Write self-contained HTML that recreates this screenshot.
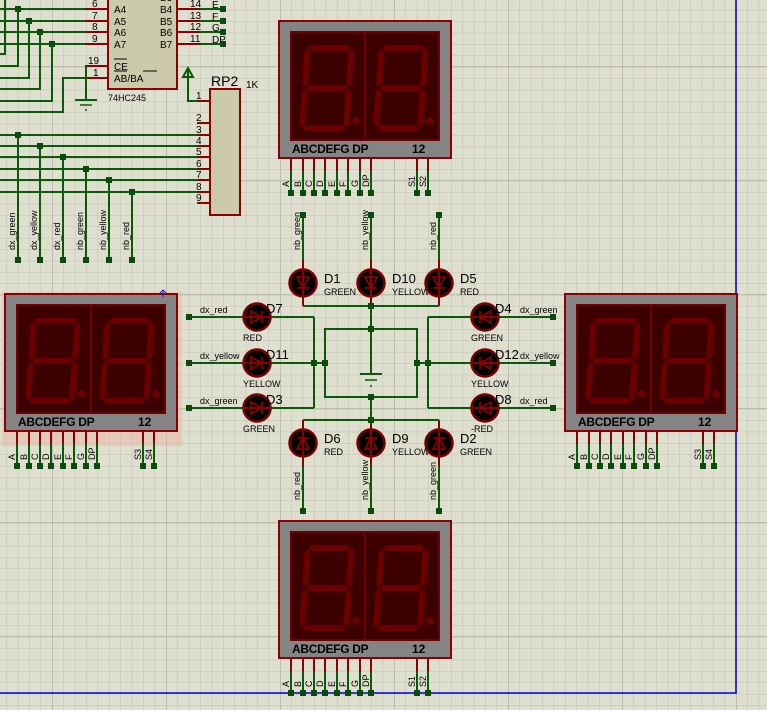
<!DOCTYPE html>
<html><head><meta charset="utf-8"><style>
html,body{margin:0;padding:0;background:#dfdfd0;}
svg{display:block;font-family:"Liberation Sans",Arial,sans-serif;}
</style></head><body>
<svg id="s" width="767" height="710" viewBox="0 0 767 710" xmlns="http://www.w3.org/2000/svg">
<defs>
<pattern id="g1" x="6.4" y="9.9" width="11.4" height="11.4" patternUnits="userSpaceOnUse"><path d="M0 0H11.4M0 0V11.4" stroke="#c0bfb0" stroke-width="1" fill="none"/></pattern>
<pattern id="g2" x="52" y="66" width="114" height="114" patternUnits="userSpaceOnUse"><path d="M0 0H114M0 0V114" stroke="#bdbcae" stroke-width="2" fill="none"/></pattern>
</defs>
<rect width="767" height="710" fill="#dfdfd0"/>
<rect width="767" height="710" fill="url(#g1)"/>
<rect width="767" height="710" fill="url(#g2)"/>
<path d="M736 0V693H0" stroke="#0000c8" stroke-width="1.5" fill="none"/>
<rect x="2" y="292" width="180" height="154" fill="#e8b8a8" opacity="0.55"/>
<g id="root"></g>
</svg>
<script>
var NS="http://www.w3.org/2000/svg",R=document.getElementById('root');
function el(t,a,txt){var e=document.createElementNS(NS,t);for(var k in a)e.setAttribute(k,a[k]);if(txt!==undefined)e.textContent=txt;R.appendChild(e);return e;}
var G="#0a5a0a",RD="#8b0000";
function L(x1,y1,x2,y2,c,w){el('line',{x1:x1,y1:y1,x2:x2,y2:y2,stroke:c||G,'stroke-width':w||2});}
function P(d,c){el('path',{d:d,stroke:c||G,'stroke-width':2,fill:'none'});}
function D(x,y){el('rect',{x:x-3,y:y-3,width:6,height:6,fill:'#0a4a0a'});}
function T(x,y,s,sz,opt){var a={x:x,y:y,'font-size':sz||10,fill:'#000'};if(opt)for(var k in opt)a[k]=opt[k];el('text',a,s);}
function TV(x,y,s,sz){T(x,y,s,sz||9,{transform:'rotate(-90 '+x+' '+y+')'});}
function hs(x,y,l,t){return (x)+','+(y+t/2)+' '+(x+t/2)+','+y+' '+(x+l-t/2)+','+y+' '+(x+l)+','+(y+t/2)+' '+(x+l-t/2)+','+(y+t)+' '+(x+t/2)+','+(y+t);}
function vs(x,y,l,t){return (x+t/2)+','+y+' '+(x+t)+','+(y+t/2)+' '+(x+t)+','+(y+l-t/2)+' '+(x+t/2)+','+(y+l)+' '+x+','+(y+l-t/2)+' '+x+','+(y+t/2);}
function digit(x,y){var c='#6a0000',t=6;
 var g=document.createElementNS(NS,'g');g.setAttribute('transform','translate('+(x+3)+','+y+') skewX(-4)');R.appendChild(g);
 var segs=[hs(4,0,42,t),vs(44,4,38,t),vs(44,44,38,t),hs(4,80,42,t),vs(0,44,38,t),vs(0,4,38,t),hs(4,40,42,t)];
 segs.forEach(function(p){var e=document.createElementNS(NS,'polygon');e.setAttribute('points',p);e.setAttribute('fill',c);g.appendChild(e);});
 el('circle',{cx:x+54,cy:y+76,r:3.8,fill:c});}
function disp(ox,oy,s1,s2){
 el('rect',{x:ox,y:oy,width:172,height:137,fill:'#848484',stroke:RD,'stroke-width':2});
 el('rect',{x:ox+12,y:oy+11,width:148,height:108,fill:'#3c0000',stroke:'#6e0000','stroke-width':2});
 L(ox+86,oy+11,ox+86,oy+119,'#6e0000',2);
 digit(ox+23,oy+24);digit(ox+97,oy+24);
 T(ox+13,oy+132,'ABCDEFG DP',12,{'font-weight':'bold','letter-spacing':'-0.3'});
 T(ox+133,oy+132,'12',12,{'font-weight':'bold'});
 var px=[12,24,35,46,58,69,81,92,138,149],lb=['A','B','C','D','E','F','G','DP',s1,s2];
 px.forEach(function(p,i){var X=ox+p;L(X,oy+138,X,oy+150,RD,2);L(X,oy+150,X,oy+172);D(X,oy+172);TV(X-2,oy+166,lb[i],9);});
}
disp(279,21,'S1','S2');disp(279,521,'S1','S2');disp(5,294,'S3','S4');disp(565,294,'S3','S4');
el('rect',{x:108,y:-10,width:69,height:99,fill:'#cbcbac',stroke:RD,'stroke-width':2});
T(108,101,'74HC245',9);
var lp=[[9,'6','A4'],[21,'7','A5'],[32,'8','A6'],[44,'9','A7']];
lp.forEach(function(a){L(85,a[0],108,a[0],RD,2);T(92,a[0]-2,a[1],10);T(114,a[0]+4,a[2],10);});
L(85,66,108,66,RD,2);T(88,64,'19',10);T(114,70,'CE',10);L(114,59,127,59,'#000',1);
L(85,78,108,78,RD,2);T(93,76,'1',10);T(114,82,'AB/BA',10);L(114,71,127,71,'#000',1);L(143,71,157,71,'#000',1);
var rp=[[-3,'15','B3',''],[9,'14','B4','E'],[21,'13','B5','F'],[32,'12','B6','G'],[44,'11','B7','DP']];
rp.forEach(function(a){L(177,a[0],200,a[0],RD,2);T(190,a[0]-2,a[1],10);T(160,a[0]+4,a[2],10);L(200,a[0],223,a[0]);D(223,a[0]);T(212,a[0]-1,a[3],10);});
[[9,18],[21,29],[32,40],[44,52]].forEach(function(a){L(0,a[0],85,a[0]);D(a[1],a[0]);});
P('M5 0V54H0');P('M18 9V66H0');P('M29 21V78H0');P('M40 32V89H0');P('M52 44V101H0');P('M0 112H63V78H85');
P('M86 66V100');L(75,100,97,100,G,2);L(80,105,92,105,G,1.5);L(85,110,87,110,G,1.5);
el('rect',{x:210,y:89,width:30,height:126,fill:'#cbcbac',stroke:RD,'stroke-width':2});
T(211,86,'RP2',14);T(246,88,'1K',10);
var ry=[101,123,135,146,157,169,180,192,203];
ry.forEach(function(y,i){L(197,y,210,y,RD,2);T(196,y-2,String(i+1),10);});
P('M197 101H188V70');el('polygon',{points:'188,68 183,77 193,77',fill:'none',stroke:G,'stroke-width':2});
var bx=[18,40,63,86,109,132],bn=['dx_green','dx_yellow','dx_red','nb_green','nb_yellow','nb_red'];
bx.forEach(function(x,i){var y=ry[i+2];L(0,y,197,y);L(x,y,x,260);D(x,y);D(x,260);TV(x-3,250,bn[i],9);});
function led(cx,cy,dir){el('circle',{cx:cx,cy:cy,r:13.5,fill:'#000',stroke:'#7a0000','stroke-width':2.5});
 var tri,bar;
 if(dir=='d'){tri=(cx-6)+','+(cy-6)+' '+(cx+6)+','+(cy-6)+' '+cx+','+(cy+5);bar=[cx-6,cy+5,cx+6,cy+5];L(cx,cy-14,cx,cy+14,RD,2);}
 if(dir=='u'){tri=(cx-6)+','+(cy+6)+' '+(cx+6)+','+(cy+6)+' '+cx+','+(cy-5);bar=[cx-6,cy-5,cx+6,cy-5];L(cx,cy-14,cx,cy+14,RD,2);}
 if(dir=='r'){tri=(cx-6)+','+(cy-6)+' '+(cx-6)+','+(cy+6)+' '+(cx+5)+','+cy;bar=[cx+5,cy-6,cx+5,cy+6];L(cx-14,cy,cx+14,cy,RD,2);}
 if(dir=='l'){tri=(cx+6)+','+(cy-6)+' '+(cx+6)+','+(cy+6)+' '+(cx-5)+','+cy;bar=[cx-5,cy-6,cx-5,cy+6];L(cx-14,cy,cx+14,cy,RD,2);}
 el('polygon',{points:tri,fill:'none',stroke:'#8b0000','stroke-width':1.8});L(bar[0],bar[1],bar[2],bar[3],'#8b0000',1.8);}
[[303,'D1','GREEN','nb_green'],[371,'D10','YELLOW','nb_yellow'],[439,'D5','RED','nb_red']].forEach(function(a){
 L(a[0],215,a[0],260);D(a[0],215);L(a[0],260,a[0],269,RD,2);L(a[0],297,a[0],306,RD,2);led(a[0],283,'d');
 T(a[0]+21,283,a[1],13);T(a[0]+21,295,a[2],9);TV(a[0]-3,250,a[3],9);});
P('M303 306H439');D(371,306);
[[303,'D6','RED','nb_red'],[371,'D9','YELLOW','nb_yellow'],[439,'D2','GREEN','nb_green']].forEach(function(a){
 L(a[0],420,a[0],429,RD,2);L(a[0],457,a[0],466,RD,2);L(a[0],466,a[0],511);D(a[0],511);led(a[0],443,'u');
 T(a[0]+21,443,a[1],13);T(a[0]+21,455,a[2],9);TV(a[0]-3,500,a[3],9);});
P('M303 420H439');D(371,420);
P('M371 306V373');P('M371 397V420');el('rect',{x:325,y:329,width:92,height:68,fill:'none',stroke:G,'stroke-width':2});
D(371,329);D(371,397);
L(360,374,382,374,G,2);L(365,380,377,380,G,1.5);L(370,386,372,386,G,1.5);
[[317,'D7','RED','dx_red'],[363,'D11','YELLOW','dx_yellow'],[408,'D3','GREEN','dx_green']].forEach(function(a){
 L(189,a[0],243,a[0]);D(189,a[0]);L(243,a[0],271,a[0],RD,2);L(271,a[0],314,a[0]);led(257,a[0],'r');
 T(200,a[0]-4,a[3],9);T(266,a[0]-4,a[1],13);T(243,a[0]+24,a[2],9);});
P('M314 317V408');D(314,363);L(314,363,325,363);D(325,363);
[[317,'D4','GREEN','dx_green'],[363,'D12','YELLOW','dx_yellow'],[408,'D8','RED','dx_red']].forEach(function(a){
 L(428,a[0],471,a[0]);L(471,a[0],499,a[0],RD,2);L(499,a[0],553,a[0]);D(553,a[0]);led(485,a[0],'l');
 T(520,a[0]-4,a[3],9);T(495,a[0]-4,a[1],13);T(471,a[0]+24,(a[1]=='D8'?'-':'')+a[2],9);});
P('M428 317V408');D(428,363);L(417,363,428,363);D(417,363);
el('path',{d:'M163 297V290M163 290l-3 3M163 290l3 3',stroke:'#2020c0','stroke-width':1,fill:'none'});
</script>
</body></html>
